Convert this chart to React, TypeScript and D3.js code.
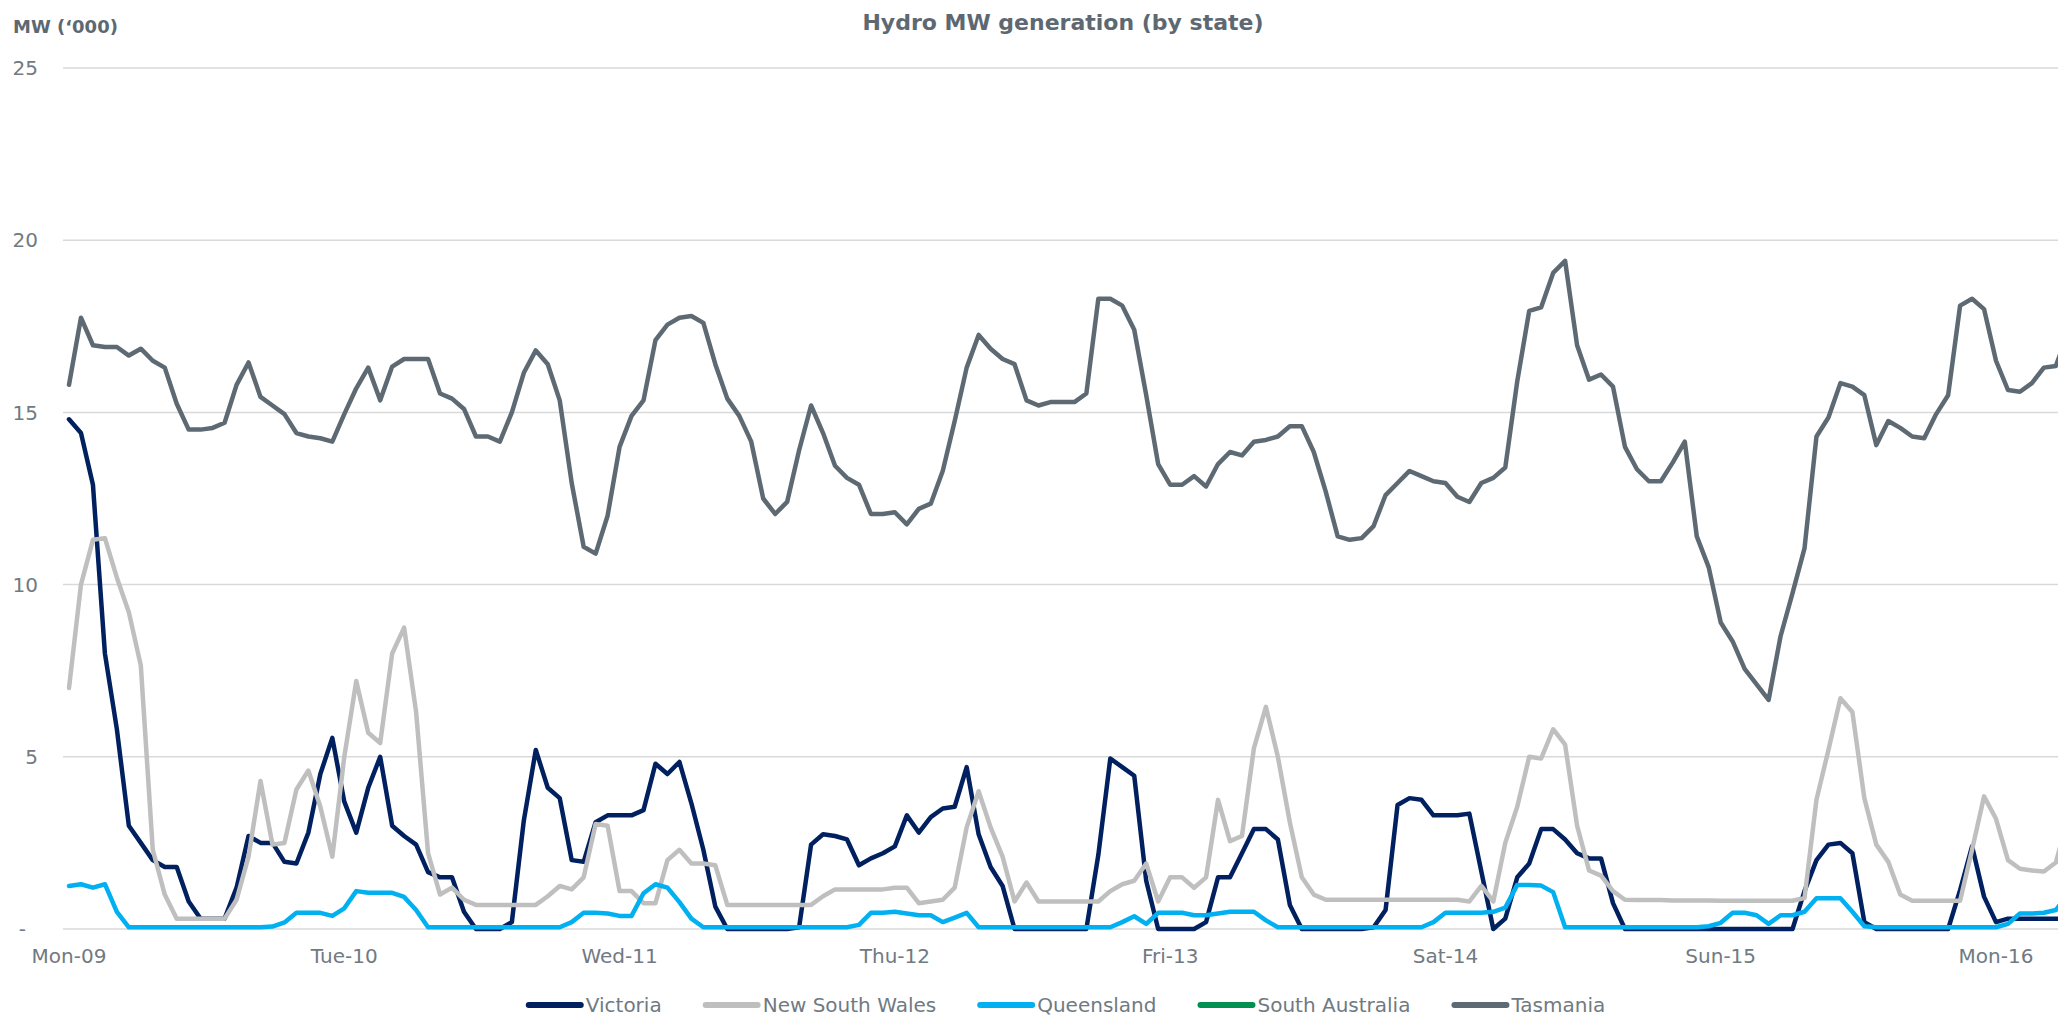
import React, { useEffect, useRef } from 'react'
import * as d3 from 'd3'

// hourly-ish samples, 23 per day label
const dayLabels = ['Mon-09', 'Tue-10', 'Wed-11', 'Thu-12', 'Fri-13', 'Sat-14', 'Sun-15', 'Mon-16']
const yTicks = [0, 5, 10, 15, 20, 25]

const victoria = [
  14.8, 14.4, 12.9, 8.0, 5.8, 3.0, 2.5, 2.0, 1.8, 1.8,
  0.8, 0.3, 0.3, 0.3, 1.2, 2.7, 2.5, 2.5, 1.95, 1.9,
  2.8, 4.5, 5.55, 3.7, 2.8, 4.1, 5.0, 3.0, 2.7, 2.45,
  1.65, 1.5, 1.5, 0.5, 0, 0, 0, 0.2, 3.15, 5.2,
  4.1, 3.8, 2.0, 1.95, 3.1, 3.3, 3.3, 3.3, 3.45, 4.8,
  4.5, 4.85, 3.65, 2.3, 0.65, 0, 0, 0, 0, 0,
  0, 0.05, 2.45, 2.75, 2.7, 2.6, 1.85, 2.05, 2.2, 2.4,
  3.3, 2.8, 3.25, 3.5, 3.55, 4.7, 2.75, 1.8, 1.25, 0,
  0, 0, 0, 0, 0, 0, 2.15, 4.95, 4.7, 4.45,
  1.4, 0, 0, 0, 0, 0.2, 1.5, 1.5, 2.2, 2.9,
  2.9, 2.6, 0.7, 0, 0, 0, 0, 0, 0, 0.05,
  0.55, 3.6, 3.8, 3.75, 3.3, 3.3, 3.3, 3.35, 1.67, 0,
  0.3, 1.5, 1.9, 2.9, 2.9, 2.6, 2.2, 2.05, 2.05, 0.75,
  0, 0, 0, 0, 0, 0, 0, 0, 0, 0,
  0, 0, 0, 0, 0, 1.1, 2.0, 2.45, 2.5, 2.2,
  0.2, 0, 0, 0, 0, 0, 0, 0, 1.13, 2.4,
  0.94, 0.2, 0.3, 0.3, 0.3, 0.3, 0.3, 0.3,
]

const newSouthWales = [
  7.0, 10.0, 11.3, 11.35, 10.2, 9.2, 7.65, 2.3, 1.0, 0.3,
  0.3, 0.3, 0.3, 0.3, 0.85, 2.1, 4.3, 2.45, 2.5, 4.05,
  4.6, 3.55, 2.1, 5.0, 7.2, 5.7, 5.4, 8.0, 8.75, 6.3,
  2.2, 1.0, 1.2, 0.85, 0.7, 0.7, 0.7, 0.7, 0.7, 0.7,
  0.95, 1.25, 1.15, 1.5, 3.05, 3.0, 1.1, 1.1, 0.75, 0.75,
  2.0, 2.3, 1.9, 1.9, 1.85, 0.7, 0.7, 0.7, 0.7, 0.7,
  0.7, 0.7, 0.7, 0.95, 1.15, 1.15, 1.15, 1.15, 1.15, 1.2,
  1.2, 0.75, 0.8, 0.85, 1.2, 2.95, 4.0, 2.95, 2.1, 0.8,
  1.35, 0.8, 0.8, 0.8, 0.8, 0.8, 0.8, 1.1, 1.3, 1.4,
  1.9, 0.8, 1.5, 1.5, 1.2, 1.5, 3.75, 2.55, 2.7, 5.25,
  6.45, 5.0, 3.1, 1.5, 1.0, 0.85, 0.85, 0.85, 0.85, 0.85,
  0.85, 0.85, 0.85, 0.85, 0.85, 0.85, 0.85, 0.8, 1.25, 0.8,
  2.5, 3.55, 5.0, 4.95, 5.8, 5.35, 3.0, 1.7, 1.55, 1.1,
  0.85, 0.84, 0.84, 0.84, 0.83, 0.83, 0.83, 0.83, 0.82, 0.82,
  0.82, 0.82, 0.82, 0.82, 0.82, 0.9, 3.75, 5.2, 6.7, 6.3,
  3.8, 2.45, 1.95, 1.0, 0.82, 0.82, 0.82, 0.82, 0.82, 2.3,
  3.85, 3.2, 2.0, 1.75, 1.7, 1.67, 1.93, 3.2,
]

const queensland = [
  1.25, 1.3, 1.2, 1.3, 0.5, 0.05, 0.05, 0.05, 0.05, 0.05,
  0.05, 0.05, 0.05, 0.05, 0.05, 0.05, 0.05, 0.07, 0.19, 0.47,
  0.47, 0.47, 0.38, 0.6, 1.1, 1.05, 1.05, 1.05, 0.93, 0.55,
  0.05, 0.05, 0.05, 0.05, 0.05, 0.05, 0.05, 0.05, 0.05, 0.05,
  0.05, 0.05, 0.2, 0.47, 0.47, 0.45, 0.38, 0.38, 1.04, 1.3,
  1.2, 0.78, 0.3, 0.05, 0.05, 0.05, 0.05, 0.05, 0.05, 0.05,
  0.05, 0.05, 0.05, 0.05, 0.05, 0.05, 0.12, 0.47, 0.47, 0.5,
  0.45, 0.4, 0.4, 0.2, 0.33, 0.47, 0.05, 0.05, 0.05, 0.05,
  0.05, 0.05, 0.05, 0.05, 0.05, 0.05, 0.05, 0.05, 0.2, 0.37,
  0.15, 0.47, 0.47, 0.47, 0.4, 0.4, 0.45, 0.5, 0.5, 0.5,
  0.25, 0.05, 0.05, 0.05, 0.05, 0.05, 0.05, 0.05, 0.05, 0.05,
  0.05, 0.05, 0.05, 0.05, 0.2, 0.47, 0.47, 0.47, 0.47, 0.5,
  0.62, 1.28, 1.28, 1.26, 1.07, 0.05, 0.05, 0.05, 0.05, 0.05,
  0.05, 0.05, 0.05, 0.05, 0.05, 0.05, 0.05, 0.08, 0.18, 0.47,
  0.47, 0.4, 0.15, 0.4, 0.4, 0.5, 0.89, 0.89, 0.89, 0.5,
  0.08, 0.05, 0.05, 0.05, 0.05, 0.05, 0.05, 0.05, 0.05, 0.05,
  0.05, 0.05, 0.15, 0.45, 0.45, 0.47, 0.55, 1.0,
]

// no South Australian hydro output in this period (legend entry only)
const southAustralia: number[] = []

const tasmania = [
  15.8, 17.75, 16.95, 16.9, 16.9, 16.65, 16.85, 16.5, 16.3, 15.25,
  14.5, 14.5, 14.55, 14.7, 15.8, 16.45, 15.45, 15.2, 14.95, 14.4,
  14.3, 14.25, 14.15, 14.95, 15.7, 16.3, 15.35, 16.33, 16.55, 16.55,
  16.55, 15.55, 15.4, 15.1, 14.3, 14.3, 14.15, 15.0, 16.15, 16.8,
  16.4, 15.35, 12.95, 11.1, 10.9, 12.0, 14.0, 14.9, 15.35, 17.1,
  17.55, 17.75, 17.8, 17.6, 16.4, 15.4, 14.9, 14.15, 12.5, 12.05,
  12.4, 13.9, 15.2, 14.4, 13.45, 13.1, 12.9, 12.05, 12.05, 12.1,
  11.75, 12.2, 12.35, 13.3, 14.75, 16.3, 17.25, 16.85, 16.55, 16.4,
  15.35, 15.2, 15.3, 15.3, 15.3, 15.55, 18.3, 18.3, 18.1, 17.4,
  15.5, 13.5, 12.9, 12.9, 13.15, 12.85, 13.5, 13.85, 13.75, 14.15,
  14.2, 14.3, 14.6, 14.6, 13.85, 12.7, 11.4, 11.3, 11.35, 11.7,
  12.6, 12.95, 13.3, 13.15, 13.0, 12.95, 12.55, 12.4, 12.95, 13.1,
  13.4, 15.9, 17.95, 18.05, 19.05, 19.4, 16.95, 15.95, 16.1, 15.75,
  14.0, 13.35, 13.0, 13.0, 13.55, 14.15, 11.4, 10.5, 8.9, 8.35,
  7.55, 7.1, 6.65, 8.5, 9.75, 11.05, 14.3, 14.85, 15.85, 15.75,
  15.5, 14.05, 14.75, 14.55, 14.3, 14.25, 14.95, 15.5, 18.1, 18.3,
  18.0, 16.5, 15.65, 15.6, 15.85, 16.3, 16.35, 17.3,
]

const seriesNames = ['Victoria', 'New South Wales', 'Queensland', 'South Australia', 'Tasmania']
const seriesValues = [victoria, newSouthWales, queensland, southAustralia, tasmania]
const seriesColors = ['#002060', '#bfbfbf', '#00b0f0', '#00904f', '#5e6a73']

const POINTS_PER_DAY = 23
const WIDTH = 2058
const HEIGHT = 1016
const FONT = '"DejaVu Sans", sans-serif'

const App: React.FC = () => {
  const svgRef = useRef<SVGSVGElement>(null)

  useEffect(() => {
    document.body.style.margin = '0'
    const svg = d3.select(svgRef.current)
    svg.selectAll('*').remove()

    const x = d3.scaleLinear()
      .domain([0, POINTS_PER_DAY * (dayLabels.length - 1)])
      .range([69, 1996])
    const y = d3.scaleLinear().domain([0, 25]).range([929, 68])

    svg.append('rect').attr('width', WIDTH).attr('height', HEIGHT).attr('fill', '#ffffff')

    // gridlines
    svg.append('g')
      .selectAll('line')
      .data(yTicks)
      .join('line')
      .attr('x1', 63)
      .attr('x2', WIDTH)
      .attr('y1', d => y(d))
      .attr('y2', d => y(d))
      .attr('stroke', '#d9d9d9')
      .attr('stroke-width', 1.5)

    // y labels
    svg.append('g')
      .selectAll('text')
      .data(yTicks)
      .join('text')
      .attr('x', d => (d === 0 ? 26 : 38))
      .attr('y', d => y(d))
      .attr('dy', '0.36em')
      .attr('text-anchor', 'end')
      .attr('font-family', FONT)
      .attr('font-size', 20)
      .attr('fill', '#6f7a82')
      .text(d => (d === 0 ? '-' : String(d)))

    // x labels
    svg.append('g')
      .selectAll('text')
      .data(dayLabels)
      .join('text')
      .attr('x', (_, i) => x(i * POINTS_PER_DAY))
      .attr('y', 963)
      .attr('text-anchor', 'middle')
      .attr('font-family', FONT)
      .attr('font-size', 20)
      .attr('fill', '#6f7a82')
      .text(d => d)

    // series
    const line = d3.line<number>()
      .x((_, i) => x(i))
      .y(d => y(d))

    svg.append('g')
      .selectAll('path')
      .data(seriesValues)
      .join('path')
      .attr('d', d => (d.length ? line(d) : null))
      .attr('fill', 'none')
      .attr('stroke', (_, i) => seriesColors[i])
      .attr('stroke-width', 4.5)
      .attr('stroke-linejoin', 'round')
      .attr('stroke-linecap', 'round')

    // title
    svg.append('text')
      .attr('x', 1063)
      .attr('y', 30)
      .attr('text-anchor', 'middle')
      .attr('font-family', FONT)
      .attr('font-weight', 'bold')
      .attr('font-size', 22)
      .attr('fill', '#5d6872')
      .text('Hydro MW generation (by state)')

    svg.append('text')
      .attr('x', 13)
      .attr('y', 33)
      .attr('font-family', FONT)
      .attr('font-weight', 'bold')
      .attr('font-size', 18)
      .attr('fill', '#5d6872')
      .text('MW (\u2018000)')

    // legend
    const legend = svg.append('g')
    const items = legend.selectAll('g')
      .data(seriesNames)
      .join('g')
    items.append('line')
      .attr('x1', 0)
      .attr('x2', 52)
      .attr('y1', 1005)
      .attr('y2', 1005)
      .attr('stroke', (_, i) => seriesColors[i])
      .attr('stroke-width', 6)
      .attr('stroke-linecap', 'round')
    items.append('text')
      .attr('x', 57)
      .attr('y', 1012)
      .attr('font-family', FONT)
      .attr('font-size', 20)
      .attr('fill', '#6f7a82')
      .text(d => d)

    const widths: number[] = []
    items.each(function () {
      const t = (this as SVGGElement).querySelector('text') as SVGTextElement
      widths.push(57 + t.getComputedTextLength())
    })
    const gap = 44
    const total = d3.sum(widths) + gap * (widths.length - 1)
    let cx = 1067 - total / 2
    items.attr('transform', (_, i) => {
      const tx = cx
      cx += widths[i] + gap
      return `translate(${tx},0)`
    })
  }, [])

  return <svg ref={svgRef} width={WIDTH} height={HEIGHT} style={{ display: 'block' }} />
}

export default App
